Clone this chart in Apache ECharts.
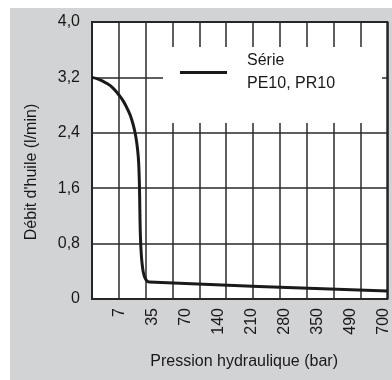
<!DOCTYPE html>
<html>
<head>
<meta charset="utf-8">
<script src="https://cdn.jsdelivr.net/npm/echarts@6/dist/echarts.min.js"></script>
<style>
  html, body { margin: 0; padding: 0; background: #ffffff; }
  #chart { position: absolute; left: 10px; top: 8px; width: 382px; height: 372px; }
</style>
</head>
<body>
<div id="chart"></div>
<script>
// Pressure labels along the bottom axis (bar)
const pressureLabels = ['7', '35', '70', '140', '210', '280', '350', '490', '700'];
// Flow axis tick labels (l/min), decimal comma
const flowTickLabels = ['0', '0,8', '1,6', '2,4', '3,2', '4,0'];
const flowTicks = [0, 0.8, 1.6, 2.4, 3.2, 4.0];

// Curve position along the pressure label index (0 = "7", 8 = "700")
const curvePos = [-0.824, -0.615, -0.385, -0.197, -0.009, 0.131, 0.26, 0.37, 0.46, 0.53, 0.575, 0.6, 0.615, 0.625, 0.64, 0.665, 0.7, 0.75, 0.82, 0.9, 8.1];
// Oil flow at those positions (l/min)
const curveFlow = [3.2, 3.17, 3.115, 3.05, 2.946, 2.85, 2.73, 2.6, 2.44, 2.25, 2.05, 1.8, 1.5, 1.2, 0.9, 0.65, 0.47, 0.34, 0.27, 0.245, 0.115];

const seriesName = 'Série\nPE10, PR10';

const FONT = 'Liberation Sans, Arial, sans-serif';
const INK = '#1a1718';

const chart = echarts.init(document.getElementById('chart'), null, { renderer: 'canvas' });

chart.setOption({
  backgroundColor: '#d2d3d5',
  animation: false,
  textStyle: { fontFamily: FONT, color: INK },
  grid: {
    left: 82, top: 14, right: 1, bottom: 81,
    show: true, backgroundColor: '#ffffff',
    borderColor: '#1e1e1e', borderWidth: 2
  },
  legend: {
    data: [seriesName],
    left: 170, top: 30, padding: 0,
    icon: 'rect', itemWidth: 47, itemHeight: 3,
    itemStyle: { color: '#1a1a1a' },
    textStyle: {
      fontFamily: FONT, fontSize: 16, color: INK,
      lineHeight: 23, padding: [23, 0, 0, 15]
    },
    z: 6
  },
  graphic: [{
    type: 'rect', z: 3,
    shape: { x: 153, y: 39, width: 219, height: 76 },
    style: { fill: '#ffffff' }
  }],
  xAxis: [{
    // column rulings of the chart frame
    type: 'value', min: 0, max: 11, interval: 1,
    axisLine: { show: false }, axisTick: { show: false }, axisLabel: { show: false },
    splitLine: { show: true, lineStyle: { color: '#2a2a2a', width: 1.5 } }
  }, {
    type: 'value', position: 'bottom',
    min: -0.824, max: 8.1,
    axisLine: { show: false }, axisTick: { show: false },
    splitLine: { show: false },
    axisLabel: {
      customValues: pressureLabels.map((_, i) => i),
      formatter: v => pressureLabels[Math.round(v)],
      rotate: 90, margin: 9,
      fontFamily: FONT, fontSize: 16, color: INK
    },
    name: 'Pression hydraulique (bar)',
    nameLocation: 'middle', nameGap: 55,
    nameTextStyle: { fontFamily: FONT, fontSize: 16, color: INK, padding: [0, 0, 0, 9] }
  }],
  yAxis: {
    type: 'value', min: 0, max: 4, interval: 0.8,
    axisLine: { show: false }, axisTick: { show: false },
    axisLabel: {
      margin: 12, fontFamily: FONT, fontSize: 16, color: INK,
      formatter: v => flowTickLabels[flowTicks.findIndex(t => Math.abs(t - v) < 1e-6)]
    },
    splitLine: { show: true, lineStyle: { color: '#2a2a2a', width: 1.5 } },
    name: "Débit d'huile (l/min)",
    nameLocation: 'middle', nameGap: 52,
    nameTextStyle: { fontFamily: FONT, fontSize: 16, color: INK, padding: [0, 23, 0, 0] }
  },
  series: [{
    name: seriesName,
    type: 'line',
    xAxisIndex: 1,
    data: curvePos.map((x, i) => [x, curveFlow[i]]),
    showSymbol: false,
    smooth: 0.5,
    lineStyle: { color: '#1a1a1a', width: 3 },
    itemStyle: { color: '#1a1a1a' },
    z: 4
  }]
});
</script>
</body>
</html>
